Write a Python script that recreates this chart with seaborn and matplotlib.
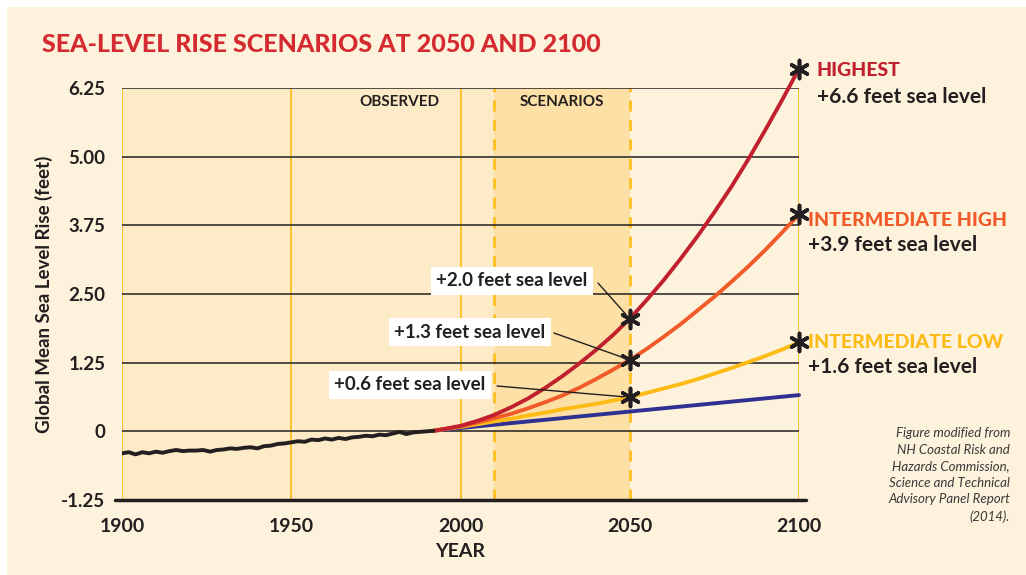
import pandas as pd
import matplotlib.pyplot as plt
import seaborn as sns
import numpy as np
from matplotlib.patches import Rectangle

# observed record (feet), every two years
obs_years = list(range(1900, 1993, 2))
obs_rise = [-0.40, -0.38, -0.42, -0.38, -0.40, -0.37, -0.39, -0.36, -0.34, -0.36,
            -0.35, -0.35, -0.34, -0.37, -0.34, -0.33, -0.31, -0.32, -0.30, -0.29,
            -0.31, -0.27, -0.26, -0.23, -0.22, -0.20, -0.18, -0.19, -0.15, -0.16,
            -0.13, -0.15, -0.12, -0.14, -0.11, -0.10, -0.08, -0.09, -0.06, -0.07,
            -0.04, -0.01, -0.05, -0.02, -0.01, 0.00, 0.01]

# scenarios
sc_years = [1992, 1995, 2000, 2005, 2010, 2015, 2020, 2025, 2030, 2035, 2040, 2045,
            2050, 2055, 2060, 2065, 2070, 2075, 2080, 2085, 2090, 2095, 2100]
lowest = [0.01, 0.03, 0.06, 0.09, 0.12, 0.15, 0.18, 0.21, 0.24, 0.27, 0.30, 0.33,
          0.36, 0.39, 0.42, 0.45, 0.48, 0.51, 0.54, 0.57, 0.60, 0.63, 0.66]
int_low = [0.01, 0.04, 0.08, 0.13, 0.18, 0.23, 0.29, 0.34, 0.40, 0.45, 0.50, 0.56,
           0.62, 0.70, 0.78, 0.86, 0.95, 1.05, 1.15, 1.26, 1.37, 1.49, 1.62]
int_high = [0.01, 0.04, 0.09, 0.16, 0.24, 0.32, 0.42, 0.53, 0.65, 0.79, 0.95, 1.12,
            1.30, 1.50, 1.72, 1.95, 2.20, 2.45, 2.72, 3.00, 3.30, 3.62, 3.95]
highest = [0.01, 0.04, 0.10, 0.19, 0.30, 0.44, 0.60, 0.79, 1.00, 1.23, 1.48, 1.75,
           2.05, 2.39, 2.75, 3.14, 3.55, 3.99, 4.45, 4.95, 5.48, 6.03, 6.60]

star_years = [2050, 2050, 2050, 2100, 2100, 2100]
star_rise = [2.05, 1.30, 0.62, 6.60, 3.95, 1.62]

yticks = [-1.25, 0, 1.25, 2.50, 3.75, 5.00, 6.25]
ytick_labels = ["-1.25", "0", "1.25", "2.50", "3.75", "5.00", "6.25"]
xticks = [1900, 1950, 2000, 2050, 2100]

RED = "#c1202f"
ORANGE = "#f15a29"
YELLOW = "#fdbb16"
BLUE = "#2e3192"
INK = "#231f20"
GOLD = "#fcc01f"
BG = "#fdf2dc"

sns.set_style("white")
plt.rcParams['font.family'] = ['Lato', 'DejaVu Sans']

fig = plt.figure(figsize=(10.26, 5.75), dpi=100, facecolor="white")
fig.patches.append(Rectangle((7 / 1026, 0), 1, 1 - 7 / 575, transform=fig.transFigure,
                             facecolor=BG, edgecolor="none", zorder=-10))
ax = fig.add_axes([122 / 1026, 75 / 575, 677 / 1026, 412 / 575])
ax.set_facecolor(BG)
ax.set_xlim(1900, 2100)
ax.set_ylim(-1.25, 6.25)
for s in ax.spines.values():
    s.set_visible(False)

# shaded periods
ax.axvspan(1900, 2010, color="#fdebc7", lw=0, zorder=0)
ax.axvspan(2010, 2050, color="#fde0a5", lw=0, zorder=0)

for x in [1900, 1950, 2000, 2100]:
    ax.axvline(x, color=GOLD, lw=1.3, zorder=1)
for x in [2010, 2050]:
    ax.axvline(x, color=GOLD, lw=2, ls=(0, (4, 3)), zorder=1)

for y in yticks[1:]:
    ax.axhline(y, color=INK, lw=1.1, zorder=2)
ax.plot([1898, 2102], [-1.25, -1.25], color=INK, lw=2.5, zorder=2, clip_on=False)

n = len(sc_years)
scen = pd.DataFrame({
    "year": sc_years * 4,
    "rise": lowest + int_low + int_high + highest,
    "scenario": ["lowest"] * n + ["int_low"] * n + ["int_high"] * n + ["highest"] * n,
})
sns.lineplot(data=scen, x="year", y="rise", hue="scenario",
             palette={"lowest": BLUE, "int_low": YELLOW, "int_high": ORANGE, "highest": RED},
             linewidth=2.8, legend=False, ax=ax, zorder=4)
for l in ax.get_lines()[-4:]:
    l.set_clip_on(False)
sns.lineplot(x=obs_years, y=obs_rise, color=INK, linewidth=2.8, ax=ax, zorder=5)

ax.scatter(star_years, star_rise, marker=(6, 2, 0), s=170, color=INK, linewidths=2.6,
           zorder=6, clip_on=False)

ax.set_xticks(xticks)
ax.set_xticklabels([str(x) for x in xticks])
ax.set_yticks(yticks)
ax.set_yticklabels(ytick_labels)
ax.tick_params(axis="y", length=8, width=1.2, color=INK, pad=4, labelsize=13.5, labelcolor=INK)
ax.tick_params(axis="x", length=5, width=1.3, color=GOLD, pad=8, labelsize=14, labelcolor=INK)
for t in ax.get_xticklabels() + ax.get_yticklabels():
    t.set_fontweight("bold")
ax.set_xlabel("YEAR", fontsize=14, fontweight="bold", color=INK, labelpad=6)
ax.set_ylabel("Global Mean Sea Level Rise (feet)", fontsize=13.5, fontweight="bold",
              color=INK, labelpad=6)

fig.text(42 / 1026, 1 - 44 / 575, "SEA-LEVEL RISE SCENARIOS AT 2050 AND 2100",
         fontsize=18, fontweight="black", color="#d42a30", va="center")
ax.text(1982, 6.0, "OBSERVED", fontsize=11, fontweight="bold", color=INK,
        ha="center", va="center")
ax.text(2030, 6.0, "SCENARIOS", fontsize=11, fontweight="bold", color=INK,
        ha="center", va="center")

# right hand scenario labels
right = [("HIGHEST", "+6.6 feet sea level", RED, 70, 97, 817),
         ("INTERMEDIATE HIGH", "+3.9 feet sea level", ORANGE, 220, 245, 808),
         ("INTERMEDIATE LOW", "+1.6 feet sea level", YELLOW, 342, 367, 808)]
for name, val, c, y1, y2, x in right:
    fig.text(x / 1026, 1 - y1 / 575, name, fontsize=14, fontweight="black", color=c, va="center")
    fig.text(x / 1026, 1 - y2 / 575, val, fontsize=15, fontweight="bold", color=INK, va="center")

# callouts at 2050
callouts = [("+2.0 feet sea level", 2.05, 512, 281, 598, 283),
            ("+1.3 feet sea level", 1.30, 470, 332, 554, 333),
            ("+0.6 feet sea level", 0.62, 410, 385, 497, 386)]
for label, yv, tx, ty, lx, ly in callouts:
    ax.annotate("", xy=(2050, yv), xytext=(lx, 575 - ly), textcoords="figure pixels",
                arrowprops=dict(arrowstyle="-", color=INK, lw=1, shrinkA=0, shrinkB=4),
                zorder=7)
    fig.text(tx / 1026, 1 - ty / 575, label, fontsize=13.5, fontweight="bold", color=INK,
             ha="center", va="center", zorder=8,
             bbox=dict(boxstyle="square,pad=0.3", facecolor="white", edgecolor="none"))

fig.text(1010 / 1026, 1 - 475 / 575,
         "Figure modified from\nNH Coastal Risk and\nHazards Commission,\nScience and Technical\nAdvisory Panel Report\n(2014).",
         fontsize=9.5, style="italic", color="#3a3a3a", ha="right", va="center",
         linespacing=1.45)

fig.savefig("out.png", dpi=100, facecolor="white")
